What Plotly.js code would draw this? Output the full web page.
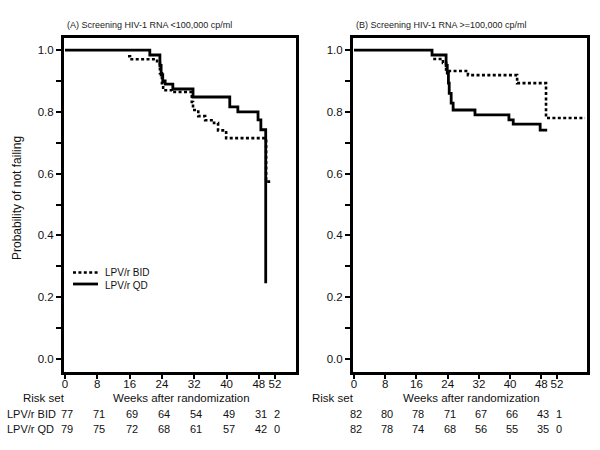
<!DOCTYPE html>
<html>
<head>
<meta charset="utf-8">
<script src="https://cdn.plot.ly/plotly-3.0.1.min.js"></script>
<style>html,body{margin:0;padding:0;background:#fff;}#chart{width:600px;height:450px;}</style>
</head>
<body>
<div id="chart"></div>
<script>
// ---- Data ----
const seriesNames = ["LPV/r BID", "LPV/r QD"];
const panelTitles = ["(A) Screening HIV-1 RNA <100,000 cp/ml", "(B) Screening HIV-1 RNA >=100,000 cp/ml"];
const weekTicks = [0, 8, 16, 24, 32, 40, 48, 52];

// Panel A (<100,000 cp/ml)
const aBidWeeks = [15.6, 16.1, 22.8, 23.5, 24.0, 24.3, 26.5, 31.4, 31.7, 33.0, 34.7, 36.9, 37.9, 39.9, 49.8, 51.2];
const aBidSurv  = [0.98, 0.97, 0.958, 0.925, 0.893, 0.87, 0.864, 0.832, 0.806, 0.786, 0.773, 0.764, 0.74, 0.715, 0.574, 0.574];
const aQdWeeks  = [0, 21.0, 23.5, 23.8, 24.2, 24.8, 26.7, 31.7, 40.8, 42.8, 47.8, 48.5, 49.7];
const aQdSurv   = [1.0, 0.984, 0.95, 0.92, 0.90, 0.89, 0.874, 0.848, 0.816, 0.80, 0.774, 0.742, 0.245];

// Panel B (>=100,000 cp/ml)
const bBidWeeks = [20.3, 22.8, 23.6, 29.2, 41.8, 49.2, 59.2];
const bBidSurv  = [0.971, 0.958, 0.932, 0.919, 0.893, 0.78, 0.78];
const bQdWeeks  = [0, 20.0, 23.6, 23.9, 24.2, 24.4, 24.9, 25.4, 31.0, 39.7, 40.8, 47.7, 49.5];
const bQdSurv   = [1.0, 0.984, 0.95, 0.925, 0.893, 0.86, 0.828, 0.806, 0.79, 0.774, 0.76, 0.741, 0.741];

// Risk sets
const riskA_BID = [77, 71, 69, 64, 54, 49, 31, 2];
const riskA_QD  = [79, 75, 72, 68, 61, 57, 42, 0];
const riskB_BID = [82, 80, 78, 71, 67, 66, 43, 1];
const riskB_QD  = [82, 78, 74, 68, 56, 55, 35, 0];

// ---- Layout helpers ----
const W = 600, H = 450;
const px = x => x / W;
const py = y => 1 - y / H;
const FONT = "Liberation Sans, Arial, Helvetica, sans-serif";
const dotted = {color: "#000", width: 2.6, dash: "3px,2.4px", shape: "hv"};
const solid  = {color: "#000", width: 2.8, shape: "hv"};

const traces = [
  {x: aBidWeeks, y: aBidSurv, xaxis: "x", yaxis: "y", mode: "lines", line: dotted, name: seriesNames[0], showlegend: false},
  {x: aQdWeeks,  y: aQdSurv,  xaxis: "x", yaxis: "y", mode: "lines", line: solid,  name: seriesNames[1], showlegend: false},
  {x: bBidWeeks, y: bBidSurv, xaxis: "x2", yaxis: "y2", mode: "lines", line: dotted, name: seriesNames[0], showlegend: false},
  {x: bQdWeeks,  y: bQdSurv,  xaxis: "x2", yaxis: "y2", mode: "lines", line: solid,  name: seriesNames[1], showlegend: false}
];

const yTickVals = [0, 0.2, 0.4, 0.6, 0.8, 1.0];
function yAxis() {
  return {
    domain: [py(372), py(38)], range: [-0.042, 1.039],
    showline: true, linewidth: 3, linecolor: "#000", mirror: true,
    showgrid: false, zeroline: false,
    ticks: "outside", ticklen: 5, tickwidth: 2, tickcolor: "#000",
    tickvals: yTickVals, tickformat: ".1f",
    minor: {tickvals: [0.1, 0.3, 0.5, 0.7, 0.9], ticks: "outside", ticklen: 5, tickwidth: 2, tickcolor: "#000", showgrid: false},
    tickfont: {family: FONT, size: 11.5, color: "#111"},
    fixedrange: true
  };
}
function xAxis(domain, range, anchor) {
  return {
    domain: domain, range: range, anchor: anchor,
    showline: true, linewidth: 3, linecolor: "#000", mirror: true,
    showgrid: false, zeroline: false,
    ticks: "outside", ticklen: 4, tickwidth: 2, tickcolor: "#000",
    tickvals: weekTicks, ticktext: weekTicks.map(String),
    ticklabelstandoff: -5,
    tickfont: {family: FONT, size: 11.5, color: "#111"},
    fixedrange: true
  };
}

const annotations = [];
const txt = (text, x, y, size, opts) => Object.assign({
  text: text, x: x, y: y, xref: "paper", yref: "paper", showarrow: false,
  xanchor: "center", yanchor: "middle", font: {family: FONT, size: size, color: "#111"}
}, opts || {});

annotations.push(txt(panelTitles[0], px(65), py(25), 9, {xanchor: "left", font: {family: FONT, size: 9, color: "#222"}}));
annotations.push(txt(panelTitles[1], px(354), py(25), 9, {xanchor: "left", font: {family: FONT, size: 9, color: "#222"}}));
annotations.push(txt("Probability of not failing", px(17), py(198), 12, {textangle: -90}));

// risk table headers
annotations.push(txt("Risk set", px(44), py(398), 11.5));
annotations.push(txt("Weeks after randomization", px(181), py(398), 11.5));
annotations.push(txt("Risk set", px(333), py(398), 11.5));
annotations.push(txt("Weeks after randomization", px(471), py(398), 11.5));
annotations.push(txt(seriesNames[0], px(5), py(413.5), 11, {xanchor: "left"}));
annotations.push(txt(seriesNames[1], px(5), py(429), 11, {xanchor: "left"}));

function riskRow(vals, xref, yPix) {
  vals.forEach((v, i) => {
    annotations.push({
      text: String(v), x: weekTicks[i], y: py(yPix), xref: xref, yref: "paper",
      showarrow: false, xanchor: "center", yanchor: "middle", xshift: 2,
      font: {family: FONT, size: 11, color: "#111"}
    });
  });
}
riskRow(riskA_BID, "x", 413.5);
riskRow(riskA_QD, "x", 429);
riskRow(riskB_BID, "x2", 413.5);
riskRow(riskB_QD, "x2", 429);

// legend (manual): one two-line text block beside two sample lines
annotations.push(txt(seriesNames[0] + "<br>" + seriesNames[1], px(104), py(278.5), 10,
  {xanchor: "left", align: "left", borderpad: 0}));
const shapes = [
  {type: "line", xref: "paper", yref: "paper", x0: px(73), x1: px(98), y0: py(272.5), y1: py(272.5), line: {color: "#000", width: 2.6, dash: "3px,2.4px"}},
  {type: "line", xref: "paper", yref: "paper", x0: px(73), x1: px(98), y0: py(284), y1: py(284), line: {color: "#000", width: 2.8}}
];

const layout = {
  width: W, height: H,
  margin: {l: 0, r: 0, t: 0, b: 0},
  paper_bgcolor: "#fff", plot_bgcolor: "#fff",
  showlegend: false,
  xaxis: xAxis([px(64), px(296)], [-0.25, 57.2], "y"),
  yaxis: Object.assign(yAxis(), {anchor: "x"}),
  xaxis2: xAxis([px(353), px(587)], [-0.25, 59.7], "y2"),
  yaxis2: Object.assign(yAxis(), {anchor: "x2"}),
  annotations: annotations,
  shapes: shapes,
  font: {family: FONT}
};

Plotly.newPlot("chart", traces, layout, {displayModeBar: false, staticPlot: true});
</script>
</body>
</html>
